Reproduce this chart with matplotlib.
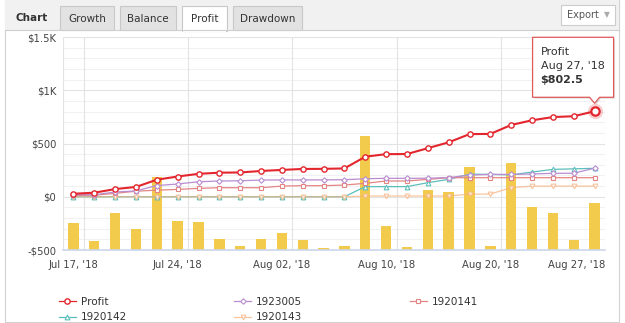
import matplotlib
matplotlib.use("Agg")
import matplotlib.pyplot as plt
from matplotlib.patches import Rectangle, Polygon
import matplotlib.transforms as mtransforms

plt.rcParams['font.family'] = ['DejaVu Sans']

# ---------------- data ----------------
x_idx = list(range(26))
tick_idx = [0, 5, 10, 15, 20, 25]
tick_labels = ["Jul 17, '18", "Jul 24, '18", "Aug 02, '18", "Aug 10, '18", "Aug 20, '18", "Aug 27, '18"]

profit = [28, 38, 72, 92, 160, 190, 215, 226, 228, 242, 252, 261, 262, 266,
          376, 400, 401, 456, 511, 588, 590, 674, 718, 748, 756, 802.5]
acc_1923005 = [19, 19, 44, 55, 105, 120, 141, 148, 150, 157, 158, 158, 158, 160,
               169, 173, 173, 174, 180, 203, 210, 210, 214, 220, 221, 268]
acc_1920141 = [13, 14, 32, 52, 62, 69, 79, 85, 85, 85, 100, 104, 104, 110,
               126, 148, 148, 163, 179, 179, 179, 179, 179, 179, 179, 179]
acc_1920142 = [0, 0, 0, 0, 0, 0, 0, 0, 0, 0, 0, 0, 0, 0,
               95, 95, 95, 132, 163, 212, 210, 205, 232, 257, 262, 267]
acc_1920143 = [0, 0, 0, 0, 0, 0, 0, 0, 0, 0, 0, 0, 0, 0,
               7, 7, 7, 7, 7, 25, 25, 86, 99, 100, 100, 100]
daily = [25, 8, 35, 20, 69, 27, 26, 10, 4, 10, 16, 9, 2, 4,
         107, 23, 3, 56, 54, 78, 4, 82, 40, 35, 9, 44]

y_ticks = [-500, 0, 500, 1000, 1500]
y_labels = ["-$500", "$0", "$500", "$1K", "$1.5K"]
tabs = ["Growth", "Balance", "Profit", "Drawdown"]

# ---------------- figure ----------------
W, H, DPI = 625, 323, 100
fig = plt.figure(figsize=(W / DPI, H / DPI), dpi=DPI)
fig.patch.set_facecolor("white")


def rect(x0, y0, x1, y1, z=1, **kw):
    r = Rectangle((x0 / W, 1 - y1 / H), (x1 - x0) / W, (y1 - y0) / H,
                  transform=fig.transFigure, zorder=z, **kw)
    fig.add_artist(r)
    return r


def ftext(x, y, s, **kw):
    fig.text(x / W, 1 - y / H, s, **kw)


# panel
rect(5, 0, 619, 322, z=-10, fc="white", ec="#d2d2d2", lw=0.8)
rect(5, 0, 619, 30, fc="#f1f1f1", ec="none")
fig.add_artist(plt.Line2D([5 / W, 619 / W], [1 - 30 / H, 1 - 30 / H],
                          transform=fig.transFigure, color="#cfcfcf", lw=0.8))
ftext(16, 18, "Chart", fontsize=7.5, fontweight="bold", color="#333333",
      ha="left", va="center")
tab_x = [(60, 114), (120, 176), (182, 227), (233, 302)]
for (a, b), name in zip(tab_x, tabs):
    active = name == "Profit"
    rect(a, 6, b, 30.6 if active else 30, fc="white" if active else "#e2e2e2",
         ec="#c8c8c8", lw=0.8)
    if active:
        rect(a + 0.6, 29, b - 0.6, 31.5, fc="white", ec="none")
    ftext((a + b) / 2, 18.5, name, fontsize=7.5, color="#333333",
          ha="center", va="center")
rect(561, 5, 615, 25, fc="white", ec="#cccccc", lw=0.8)
ftext(583, 15, "Export", fontsize=7, color="#555555", ha="center", va="center")
ftext(607, 15, "\u25BC", fontsize=5.5, color="#aaaaaa", ha="center", va="center")

# ---------------- axes ----------------
L, R, T, B = 63, 605, 37, 250
ax_rect = [L / W, 1 - B / H, (R - L) / W, (B - T) / H]

ax_bg = fig.add_axes(ax_rect)
ax_bar = fig.add_axes(ax_rect)
ax_ln = fig.add_axes(ax_rect)

for a in (ax_bg, ax_bar, ax_ln):
    a.set_xlim(-0.5, 25.5)
    for s in a.spines.values():
        s.set_visible(False)
ax_bg.patch.set_visible(False)
for a in (ax_bar, ax_ln):
    a.patch.set_visible(False)
    a.set_xticks([])
    a.set_yticks([])

ax_bg.set_ylim(-500, 1500)
ax_ln.set_ylim(-500, 1500)
ax_bar.set_ylim(0, 200)

# grid
for v in range(-500, 1501, 100):
    major = v % 500 == 0
    ax_bg.axhline(v, color="#e3e3e3" if major else "#f1f1f1", lw=0.8, zorder=0)
for v in [-0.5, 0.5, 5.5, 10.5, 15.5, 20.5, 25.5]:
    ax_bg.axvline(v, color="#e3e3e3", lw=0.8, zorder=0)

ax_bg.set_yticks(y_ticks)
ax_bg.set_yticklabels(y_labels)
ax_bg.set_xticks(tick_idx)
ax_bg.set_xticklabels(tick_labels)
ax_bg.tick_params(axis="y", length=0, pad=5, labelsize=7.2, labelcolor="#444444")
ax_bg.tick_params(axis="x", length=0, pad=7, labelsize=7.2, labelcolor="#444444")
last = ax_bg.get_xticklabels()[-1]
last.set_ha("right")
last.set_transform(last.get_transform() +
                   mtransforms.ScaledTranslation(11 / DPI, 0, fig.dpi_scale_trans))

# bars (daily, secondary scale)
ax_bar.bar(x_idx, daily, width=0.5, color="#f2cb4c", zorder=1)

# lines
common = dict(markerfacecolor="white", clip_on=False)
l_teal, = ax_ln.plot(x_idx, acc_1920142, color="#5cbfbb", lw=0.9, marker="^",
                     ms=3.4, mew=0.8, markeredgecolor="#5cbfbb", label="1920142", **common)
l_orange, = ax_ln.plot(x_idx, acc_1920143, color="#f7b27f", lw=0.9, marker="v",
                       ms=3.4, mew=0.8, markeredgecolor="#f7b27f", alpha=0.75,
                       label="1920143", **common)
l_sq, = ax_ln.plot(x_idx, acc_1920141, color="#e48585", lw=0.9, marker="s",
                   ms=3.4, mew=0.8, markeredgecolor="#e48585", label="1920141", **common)
l_purple, = ax_ln.plot(x_idx, acc_1923005, color="#b98dd0", lw=0.9, marker="D",
                       ms=2.8, mew=0.8, markeredgecolor="#b98dd0", label="1923005", **common)
l_profit, = ax_ln.plot(x_idx, profit, color="#e3262d", lw=1.5, marker="o",
                       ms=3.8, mew=1.0, markeredgecolor="#e3262d", label="Profit",
                       zorder=5, **common)
# hovered point
ax_ln.plot([x_idx[-1]], [profit[-1]], marker="o", ms=11, color="#e3262d",
           alpha=0.22, mew=0, zorder=6, clip_on=False)
ax_ln.plot([x_idx[-1]], [profit[-1]], marker="o", ms=6, mfc="white",
           mec="#e3262d", mew=1.6, zorder=7, clip_on=False)

# x axis line
ax_ln.axhline(-500, color="#ccd6eb", lw=1.2, zorder=8, clip_on=False)

# ---------------- tooltip ----------------
px, py = ax_ln.transData.transform((x_idx[-1], profit[-1]))
left, right = px - 62, px + 19
top, bot = py + 74, py + 14
tip = py + 8
verts = [(left, bot), (px - 5, bot), (px, tip), (px + 5, bot), (right, bot),
         (right, top), (left, top)]
ident = mtransforms.IdentityTransform()
shadow = Polygon([(vx + 1.5, vy - 1.5) for vx, vy in verts], closed=True,
                 transform=ident, fc="#000000", alpha=0.12, ec="none", zorder=20)
box = Polygon(verts, closed=True, transform=ident, fc="white", ec="#e05a5a",
              lw=0.9, zorder=21)
fig.add_artist(shadow)
fig.add_artist(box)
tip_lines = ["Profit", tick_labels[-1], "$" + f"{profit[-1]:.1f}"]
for i, s in enumerate(tip_lines):
    fig.text((left + 8) / W, (top - 15 - 14 * i) / H, s, fontsize=8,
             color="#333333", ha="left", va="center",
             fontweight="bold" if i == 2 else "normal", zorder=22)

# ---------------- legend ----------------
handles = [l_profit, l_teal, l_purple, l_orange, l_sq]
leg = fig.legend(handles=handles, labels=[h.get_label() for h in handles],
                 ncol=3, loc="upper left", bbox_to_anchor=(59 / W, 1 - 297 / H),
                 frameon=False, fontsize=7.5, handlelength=1.6, handletextpad=0.5,
                 columnspacing=10.3, labelspacing=0.5, borderpad=0,
                 borderaxespad=0)
for t in leg.get_texts():
    t.set_color("#333333")
for h in leg.legend_handles:
    h.set_linewidth(0.9)

fig.savefig("out.png", dpi=DPI, facecolor="white")
